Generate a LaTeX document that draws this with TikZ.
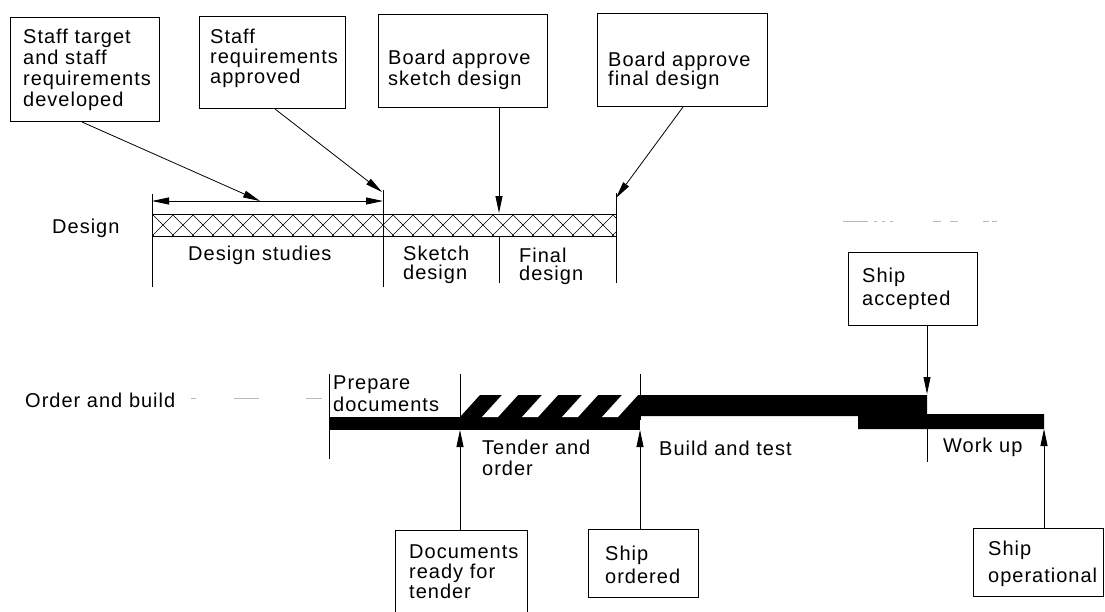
\documentclass[tikz,border=0pt]{standalone}
\usepackage{fontspec}
\setmainfont{Liberation Sans}[LetterSpace=5]
\usetikzlibrary{arrows.meta,calc}
\begin{document}
\begin{tikzpicture}[x=1pt,y=-1pt,
  box/.style={draw, line width=1pt, inner sep=0pt, anchor=north west},
  lbl/.style={inner sep=0pt, anchor=base west, align=left, text width=200pt, font=\fontsize{20}{21}\selectfont},
  arr/.style={line width=0.8pt, -{Triangle[length=17pt,width=7pt]}},
  darr/.style={line width=0.8pt, {Triangle[length=17pt,width=7pt]}-{Triangle[length=17pt,width=7pt]}},
  tick/.style={line width=0.8pt},
  hatch/.style={line width=0.45pt},
  faint/.style={line width=0.5pt, gray!55},
  barfill/.style={fill=black, draw=none},
  ]
\useasboundingbox (0,0) rectangle (1105,611);

% ---------------- Design row ----------------
\node[box, minimum width=149pt, minimum height=104pt] (b1) at (10,17) {};
\node[lbl] (t1) at (23,43) {Staff target\\and staff\\requirements\\developed};
\node[box, minimum width=146pt, minimum height=92pt] (b2) at (199,16) {};
\node[lbl, font=\fontsize{20}{20}\selectfont] (t2) at (210,43) {Staff\\requirements\\approved};
\node[box, minimum width=169pt, minimum height=93pt] (b3) at (378,14) {};
\node[lbl] (t3) at (388,64) {Board approve\\sketch design};
\node[box, minimum width=170pt, minimum height=93pt] (b4) at (597,13) {};
\node[lbl, font=\fontsize{20}{19}\selectfont] (t4) at (608,66) {Board approve\\final design};

\node[lbl] (design) at (52,233) {Design};

% hatched bar
\begin{scope}
  \clip (152,214) rectangle (616,236);
  \foreach \x in {132,152,...,632} {
    \draw[hatch] (\x,236) -- (\x+22,214);
    \draw[hatch] (\x,214) -- (\x+22,236);
  }
\end{scope}
\draw[line width=0.8pt] (152,214) rectangle (616,236);

% ticks
\coordinate (d0) at (152,201);
\coordinate (d1) at (383,201);
\draw[tick] (152,194) -- (152,287);
\draw[tick] (383,190) -- (383,287);
\draw[tick] (499,236) -- (499,283);
\draw[tick] (616,193) -- (616,283);
\draw[darr] (d0) -- (d1);

\coordinate (a1) at (260,201);
\coordinate (a2) at (382,192);
\coordinate (a3) at (499,213);
\coordinate (a4) at (616,198);
\draw[arr] ($(b1.south west)+(72,0)$) -- (a1);
\draw[arr] ($(b2.south west)+(76,0)$) -- (a2);
\draw[arr] (b3.south -| a3) -- (a3);
\draw[arr] ($(b4.south west)+(86,0)$) -- (a4);

\node[lbl] (ds) at (188,260) {Design studies};
\node[lbl, font=\fontsize{20}{19}\selectfont] (sd) at (403,260) {Sketch\\design};
\node[lbl, font=\fontsize{20}{18}\selectfont] (fd) at (519,262) {Final\\design};

\draw[faint, dash pattern=on 25pt off 6pt on 3pt off 5pt on 3pt off 5pt on 3pt off 40pt on 8pt off 9pt on 8pt] (843,221) -- (997,221);

% ---------------- Order and build row ----------------
\node[lbl] (ob) at (25,407) {Order and build};
\draw[faint, dash pattern=on 5pt off 38pt on 25pt off 47pt on 16pt] (191,398) -- (325,398);

% black bars
\fill[barfill] (329,417) rectangle (640,430);
\fill[barfill] (460,417) -- (480,395) -- (640,395) -- (640,417) -- cycle;
\foreach \i in {0,1,2,3} {
  \fill[white] (482+40*\i,417) -- (502+40*\i,395) -- (518+40*\i,395) -- (498+40*\i,417) -- cycle;
}
\fill[barfill] (640,395) -- (927,395) -- (927,414) -- (1044,414) -- (1044,429)
   -- (858,429) -- (858,416) -- (640,416) -- cycle;

\draw[tick] (329,374) -- (329,459);
\draw[tick] (460,374) -- (460,420);
\draw[tick] (640,374) -- (640,420);
\draw[tick] (927,429) -- (927,462);

\node[lbl, font=\fontsize{20}{22}\selectfont] (pd) at (333,389) {Prepare\\documents};
\node[lbl] (to) at (482,454) {Tender and\\order};
\node[lbl] (bt) at (659,455) {Build and test};
\node[lbl] (wu) at (943,452) {Work up};

% event boxes
\node[box, minimum width=129pt, minimum height=73pt] (b5) at (848,252) {};
\node[lbl, font=\fontsize{20}{23}\selectfont] (t5) at (862,282) {Ship\\accepted};
\node[box, minimum width=132pt, minimum height=90pt] (b6) at (395,530) {};
\node[lbl, font=\fontsize{20}{20}\selectfont] (t6) at (409,558) {Documents\\ready for\\tender};
\node[box, minimum width=110pt, minimum height=68pt] (b7) at (588,529) {};
\node[lbl, font=\fontsize{20}{23}\selectfont] (t7) at (605,560) {Ship\\ordered};
\node[box, minimum width=130pt, minimum height=68pt] (b8) at (973,528) {};
\node[lbl, font=\fontsize{20}{27}\selectfont] (t8) at (988,555) {Ship\\operational};

\coordinate (e5) at (927,394);
\coordinate (e6) at (460,430);
\coordinate (e7) at (640,430);
\coordinate (e8) at (1044,429);
\draw[arr] (b5.south -| e5) -- (e5);
\draw[arr] (b6.north -| e6) -- (e6);
\draw[arr] (b7.north -| e7) -- (e7);
\draw[arr] (b8.north -| e8) -- (e8);
\end{tikzpicture}
\end{document}
